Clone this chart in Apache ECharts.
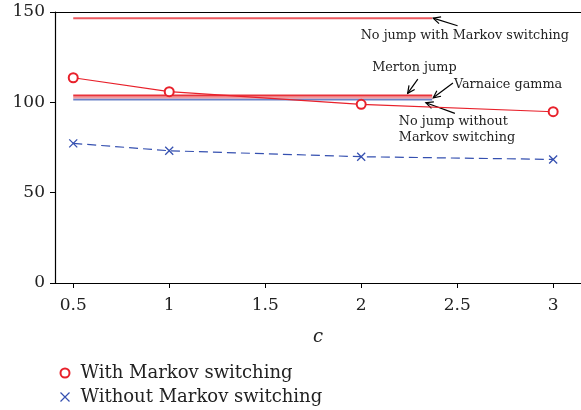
<!DOCTYPE html>
<html><head><meta charset="utf-8">
<script src="https://cdn.jsdelivr.net/npm/echarts@6/dist/echarts.min.js"></script>
<style>html,body{margin:0;padding:0;background:#fff}#c{width:581px;height:410px}</style>
</head><body><div id="c"></div>
<script>
// ---- data ----
const cValues = [0.5, 1, 2, 3];
const withMarkov = [113.6, 105.9, 98.9, 94.8];
const withoutMarkov = [77.3, 73.2, 69.9, 68.4];
const flatStartEnd = [0.5, 2.37];
const noJumpWithMS = 146.6;
const mertonJump = 103.8;
const varianceGamma = 102.7;
const noJumpWithoutMS = 101.6;
const xTicks = [0.5, 1, 1.5, 2, 2.5, 3];
const yTicks = [0, 50, 100, 150];
// annotations: [text, textX, textY, align, tailX, tailY, headX, headY] in data coords
const annotations = [
  ['No jump with Markov switching', 2.54, 136.7, 'center', 2.502, 142.4, 2.375, 146.6],
  ['Merton jump', 2.277, 119.0, 'center', 2.295, 112.9, 2.242, 105.0],
  ['Varnaice gamma', 2.483, 109.6, 'left', 2.478, 110.7, 2.375, 102.5],
  ['No jump without\nMarkov switching', 2.196, 85.1, 'left', 2.488, 93.9, 2.337, 99.8]
];

const FONT = 'DejaVu Serif';
const chart = echarts.init(document.getElementById('c'), null, {renderer: 'canvas'});
const pair = (xs, ys) => xs.map((x, i) => [x, ys[i]]);
const flat = v => flatStartEnd.map(x => [x, v]);
const redC = '#e8212b', blueC = '#3550b0';
const crossPath = 'path://M0,0L10,10M10,0L0,10';

const option = {
  animation: false,
  grid: {left: 55, right: 0, top: 12, bottom: 127},
  xAxis: [{
    type: 'value', min: 0.405, max: 3.145,
    name: 'c', nameLocation: 'middle', nameGap: 45,
    nameTextStyle: {fontFamily: FONT, fontStyle: 'italic', fontSize: 18, color: '#222'},
    axisLine: {show: true, lineStyle: {color: '#000', width: 1.2}},
    axisTick: {show: true, customValues: xTicks, length: 5, lineStyle: {color: '#000'}},
    axisLabel: {customValues: xTicks, fontFamily: FONT, fontSize: 17, color: '#222', margin: 14},
    splitLine: {show: false}
  }, {
    type: 'value', position: 'top', min: 0.405, max: 3.145,
    axisLine: {show: true, lineStyle: {color: '#000', width: 1.2}},
    axisTick: {show: false}, axisLabel: {show: false}, splitLine: {show: false}
  }],
  yAxis: {
    type: 'value', min: 0, max: 150, interval: 50,
    axisLine: {show: true, lineStyle: {color: '#000', width: 1.2}},
    axisTick: {show: true, length: 5, lineStyle: {color: '#000'}},
    axisLabel: {fontFamily: FONT, fontSize: 17, color: '#222', margin: 10},
    splitLine: {show: false}
  },
  legend: {
    orient: 'vertical', left: 58, top: 363, padding: 0, itemGap: 4, itemWidth: 9, itemHeight: 9,
    textStyle: {fontFamily: FONT, fontSize: 18, color: '#222', lineHeight: 20, padding: [0, 0, 0, 6]},
    data: [
      {name: 'With Markov switching', icon: 'emptyCircle', itemStyle: {color: redC, borderColor: redC, borderWidth: 1.2}},
      {name: 'Without Markov switching', icon: crossPath, itemStyle: {color: 'none', borderColor: blueC, borderWidth: 1.2}}
    ]
  },
  series: [
    {name: 'No jump with MS', type: 'line', data: flat(noJumpWithMS), showSymbol: false, silent: true,
     lineStyle: {color: '#ec5a60', width: 2}},
    {name: 'No jump without MS', type: 'line', data: flat(noJumpWithoutMS), showSymbol: false, silent: true,
     lineStyle: {color: '#6a82c8', width: 2}},
    {name: 'Varnaice gamma', type: 'line', data: flat(varianceGamma), showSymbol: false, silent: true,
     lineStyle: {color: '#f29a9c', width: 2}},
    {name: 'Merton jump', type: 'line', data: flat(mertonJump), showSymbol: false, silent: true,
     lineStyle: {color: '#e8333b', width: 2}},
    {name: 'With Markov switching', type: 'line', data: pair(cValues, withMarkov),
     symbol: 'emptyCircle', symbolSize: 9,
     itemStyle: {color: redC, borderColor: redC, borderWidth: 1.3},
     lineStyle: {color: redC, width: 1.2}},
    {name: 'Without Markov switching', type: 'line', data: pair(cValues, withoutMarkov),
     symbol: crossPath, symbolSize: 8,
     itemStyle: {color: 'none', borderColor: blueC, borderWidth: 1.3},
     lineStyle: {color: blueC, width: 1.2, type: [9, 5]}}
  ]
};
chart.setOption(option);

// annotations positioned from data coordinates
const els = [];
annotations.forEach(a => {
  const [txt, tx, ty, align, x1, y1, x2, y2] = a;
  const tp = chart.convertToPixel({gridIndex: 0}, [tx, ty]);
  const p1 = chart.convertToPixel({gridIndex: 0}, [x1, y1]);
  const p2 = chart.convertToPixel({gridIndex: 0}, [x2, y2]);
  els.push({type: 'text', x: tp[0], y: tp[1], style: {text: txt, fontFamily: FONT, fontSize: 12.8, fill: '#222',
    align: align, verticalAlign: 'middle', lineHeight: 16}});
  const ang = Math.atan2(p2[1] - p1[1], p2[0] - p1[0]);
  const L = 8, w = 0.45;
  const h1 = [p2[0] - L * Math.cos(ang - w), p2[1] - L * Math.sin(ang - w)];
  const h2 = [p2[0] - L * Math.cos(ang + w), p2[1] - L * Math.sin(ang + w)];
  els.push({type: 'line', shape: {x1: p1[0], y1: p1[1], x2: p2[0], y2: p2[1]}, style: {stroke: '#000', lineWidth: 1.2}});
  els.push({type: 'polyline', shape: {points: [h1, p2, h2]}, style: {stroke: '#000', lineWidth: 1.2, fill: null}});
});
chart.setOption({graphic: {elements: els}});
</script></body></html>
